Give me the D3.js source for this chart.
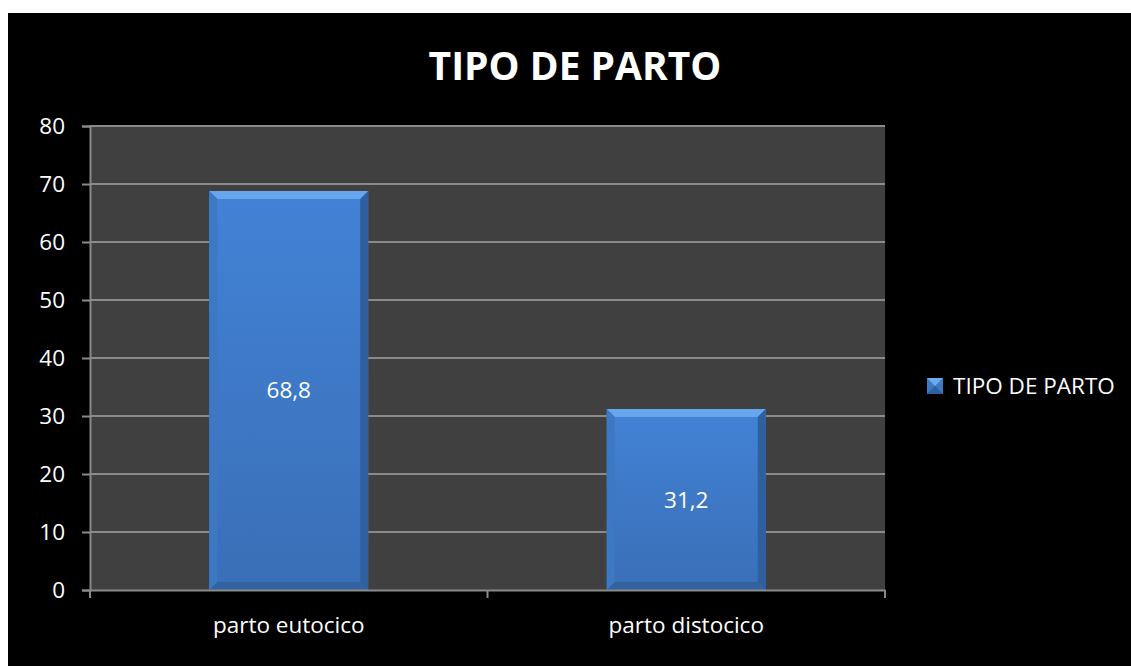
<!DOCTYPE html>
<html lang="es">
<head>
<meta charset="utf-8">
<title>TIPO DE PARTO</title>
<script src="https://cdn.jsdelivr.net/npm/d3@7"></script>
<style>
  body { margin: 0; background: #fff; }
  svg text { font-family: "Open Sans", "Noto Sans", sans-serif; fill: #fff; }
</style>
</head>
<body>
<svg width="1131" height="666"></svg>
<script>
var categories = ['parto eutocico', 'parto distocico'];
var values = [68.8, 31.2];
var labels = ['68,8', '31,2'];
var yTicks = [0, 10, 20, 30, 40, 50, 60, 70, 80];
var seriesName = 'TIPO DE PARTO';

var svg = d3.select('svg');
var plot = { left: 90, right: 885, top: 126, bottom: 590 };

svg.append('rect')
    .attr('x', 8).attr('y', 13)
    .attr('width', 1131 - 8).attr('height', 666 - 13)
    .attr('fill', '#000');

var defs = svg.append('defs');
var grad = defs.append('linearGradient')
    .attr('id', 'barFill').attr('x1', 0).attr('y1', 0).attr('x2', 0).attr('y2', 1);
grad.append('stop').attr('offset', '0%').attr('stop-color', '#4282d6');
grad.append('stop').attr('offset', '100%').attr('stop-color', '#3a6fb6');

var x = d3.scaleBand().domain(categories).range([plot.left, plot.right]).paddingInner(0.6).paddingOuter(0.3);
var xOuter = d3.scaleBand().domain(categories).range([plot.left, plot.right]);
var y = d3.scaleLinear().domain([0, 80]).range([plot.bottom, plot.top]);

svg.append('rect')
    .attr('x', plot.left).attr('y', plot.top)
    .attr('width', plot.right - plot.left).attr('height', plot.bottom - plot.top)
    .attr('fill', '#404040');

// gridlines
svg.append('g')
    .selectAll('line')
    .data(yTicks.filter(d => d > 0))
    .enter()
    .append('line')
    .attr('x1', plot.left).attr('x2', plot.right)
    .attr('y1', d => y(d)).attr('y2', d => y(d))
    .attr('stroke', '#8a8a8a').attr('stroke-width', 2);

// bars with a bevel look
var bw = x.bandwidth();
var bars = svg.append('g')
    .selectAll('g.bar')
    .data(values)
    .enter()
    .append('g')
    .attr('class', 'bar');

bars.append('rect')
    .attr('x', (d, i) => x(categories[i]))
    .attr('y', d => y(d))
    .attr('width', bw)
    .attr('height', d => y(0) - y(d))
    .attr('fill', 'url(#barFill)');

var bevel = 8;
// top highlight
bars.append('path')
    .attr('d', (d, i) => {
        var x0 = x(categories[i]), y0 = y(d);
        return 'M' + x0 + ',' + y0 + 'L' + (x0 + bw) + ',' + y0 + 'L' + (x0 + bw - bevel) + ',' + (y0 + bevel) + 'L' + (x0 + bevel) + ',' + (y0 + bevel) + 'Z';
    })
    .attr('fill', '#6aaaf0').attr('opacity', 0.9);
// left side
bars.append('path')
    .attr('d', (d, i) => {
        var x0 = x(categories[i]), y0 = y(d), y1 = y(0);
        return 'M' + x0 + ',' + y0 + 'L' + (x0 + bevel) + ',' + (y0 + bevel) + 'L' + (x0 + bevel) + ',' + (y1 - bevel) + 'L' + x0 + ',' + y1 + 'Z';
    })
    .attr('fill', '#3d78c4');
// right side
bars.append('path')
    .attr('d', (d, i) => {
        var x0 = x(categories[i]) + bw, y0 = y(d), y1 = y(0);
        return 'M' + x0 + ',' + y0 + 'L' + (x0 - bevel) + ',' + (y0 + bevel) + 'L' + (x0 - bevel) + ',' + (y1 - bevel) + 'L' + x0 + ',' + y1 + 'Z';
    })
    .attr('fill', '#2f5f9e');
// bottom
bars.append('path')
    .attr('d', (d, i) => {
        var x0 = x(categories[i]), y1 = y(0);
        return 'M' + x0 + ',' + y1 + 'L' + (x0 + bevel) + ',' + (y1 - bevel) + 'L' + (x0 + bw - bevel) + ',' + (y1 - bevel) + 'L' + (x0 + bw) + ',' + y1 + 'Z';
    })
    .attr('fill', '#33639f');

bars.append('text')
    .attr('x', (d, i) => x(categories[i]) + bw / 2)
    .attr('y', d => (y(d) + y(0)) / 2 + 8)
    .attr('text-anchor', 'middle')
    .style('font-size', '22.5px')
    .text((d, i) => labels[i]);

// axes
var yAxis = svg.append('g')
    .attr('transform', 'translate(' + plot.left + ',0)')
    .call(d3.axisLeft(y).tickValues(yTicks).tickSize(8).tickPadding(17));
yAxis.select('.domain').attr('stroke', '#8a8a8a').attr('stroke-width', 2);
yAxis.selectAll('.tick line').attr('stroke', '#8a8a8a').attr('stroke-width', 2);
yAxis.selectAll('.tick text').style('font-size', '22.5px').attr('fill', '#fff');

var xAxis = svg.append('g')
    .attr('transform', 'translate(0,' + plot.bottom + ')')
    .call(d3.axisBottom(xOuter).tickSize(0).tickPadding(27));
xAxis.select('.domain').attr('stroke', '#8a8a8a').attr('stroke-width', 2);
xAxis.selectAll('.tick text').style('font-size', '22.5px').attr('fill', '#fff');
// category boundary ticks
svg.append('g')
    .selectAll('line')
    .data(categories.concat(['end']))
    .enter()
    .append('line')
    .attr('x1', (d, i) => i < categories.length ? xOuter(d) : plot.right)
    .attr('x2', (d, i) => i < categories.length ? xOuter(d) : plot.right)
    .attr('y1', plot.bottom).attr('y2', plot.bottom + 8)
    .attr('stroke', '#8a8a8a').attr('stroke-width', 2);

// title
svg.append('text')
    .attr('x', 575).attr('y', 80)
    .attr('text-anchor', 'middle')
    .style('font-size', '39px').style('font-weight', 'bold')
    .text(seriesName);

// legend
var lg = svg.append('g').attr('transform', 'translate(927,378)');
lg.append('rect').attr('width', 16).attr('height', 16).attr('fill', '#3d78c4');
lg.append('path').attr('d', 'M0,0L16,0L8,8Z').attr('fill', '#6aaaf0');
lg.append('path').attr('d', 'M0,16L16,16L8,8Z').attr('fill', '#2f5f9e');
lg.append('text').attr('x', 26).attr('y', 16).style('font-size', '22.5px').text(seriesName);
</script>
</body>
</html>
